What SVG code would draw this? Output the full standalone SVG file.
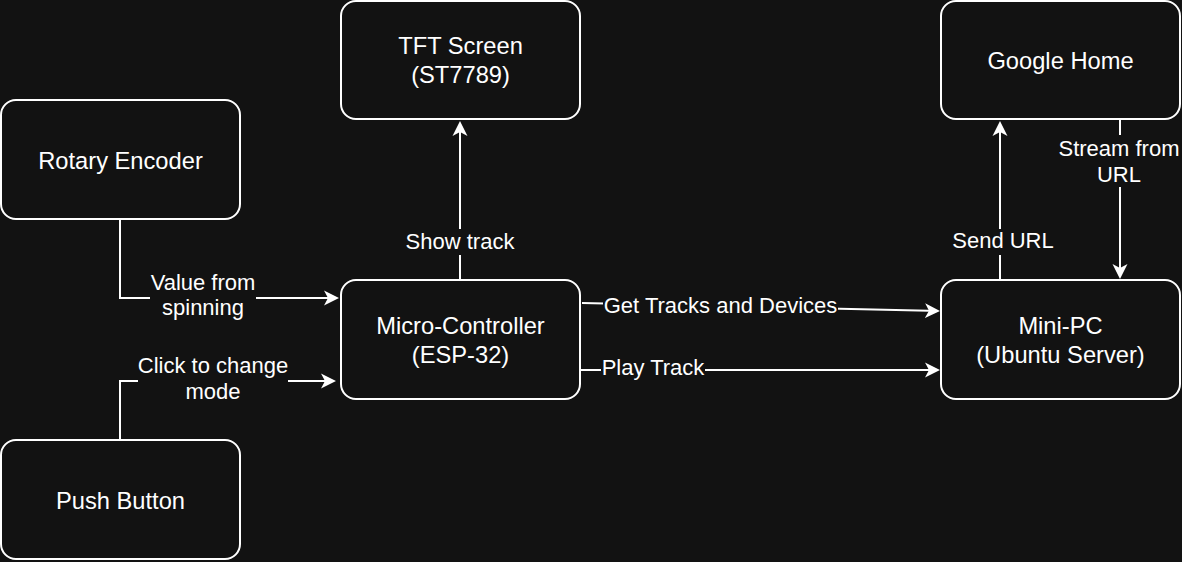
<svg xmlns="http://www.w3.org/2000/svg" width="1182" height="562" viewBox="0 0 1182 562">
<style>
.bg{fill:#121212}
.node rect.box{fill:#121212;stroke:#ffffff;stroke-width:2}
.nt{font-family:"Liberation Sans",Arial,sans-serif;font-size:23.7px;fill:#ffffff;text-anchor:middle}
.edge{fill:none;stroke:#ffffff;stroke-width:2}
.lbg{fill:#121212}
.lt{font-family:"Liberation Sans",Arial,sans-serif;font-size:22px;fill:#ffffff;text-anchor:middle}
</style>
<defs>
<marker id="arr" markerUnits="userSpaceOnUse" markerWidth="16" markerHeight="16" viewBox="0 -8 16 16" refX="4" refY="0" orient="auto">
<path d="M0,-7.5 L15,0 L0,7.5 L4,0 Z" fill="#ffffff"/>
</marker>
</defs>
<rect class="bg" x="0" y="0" width="1182" height="562"/>

<g id="connectors">
<path class="edge" d="M120,220 V298 H328" marker-end="url(#arr)"/>
<path class="edge" d="M120,440 V381 H325" marker-end="url(#arr)"/>
<path class="edge" d="M460,280 V132" marker-end="url(#arr)"/>
<path class="edge" d="M582,303 L929,310.75" marker-end="url(#arr)"/>
<path class="edge" d="M581,370 H929" marker-end="url(#arr)"/>
<path class="edge" d="M1000,280 V132" marker-end="url(#arr)"/>
<path class="edge" d="M1120,120 V268" marker-end="url(#arr)"/>

<rect class="lbg" x="150" y="270" width="106" height="50"/>
<text class="lt" x="203" y="290">Value from</text>
<text class="lt" x="203" y="315">spinning</text>

<rect class="lbg" x="138" y="354" width="150" height="50"/>
<text class="lt" x="213" y="373">Click to change</text>
<text class="lt" x="213" y="399">mode</text>

<rect class="lbg" x="405" y="229" width="110" height="26"/>
<text class="lt" x="460" y="249">Show track</text>

<rect class="lbg" x="603" y="293" width="235" height="25"/>
<text class="lt" x="720.5" y="313">Get Tracks and Devices</text>

<rect class="lbg" x="601" y="356" width="104" height="25"/>
<text class="lt" x="653" y="375">Play Track</text>

<rect class="lbg" x="952" y="229" width="102" height="26"/>
<text class="lt" x="1003" y="248">Send URL</text>

<rect class="lbg" x="1058" y="135" width="122" height="52"/>
<text class="lt" x="1119" y="156">Stream from</text>
<text class="lt" x="1119" y="182">URL</text>
</g>

<g id="rotary-encoder" class="node">
<rect class="box" x="1" y="100" width="239" height="119" rx="15"/>
<text class="nt" x="120.5" y="169">Rotary Encoder</text>
</g>
<g id="push-button" class="node">
<rect class="box" x="1" y="440" width="239" height="119" rx="15"/>
<text class="nt" x="120.5" y="509">Push Button</text>
</g>
<g id="tft-screen" class="node">
<rect class="box" x="341" y="1" width="239" height="118" rx="15"/>
<text class="nt" x="460.5" y="54">TFT Screen</text>
<text class="nt" x="460.5" y="83">(ST7789)</text>
</g>
<g id="micro-controller" class="node">
<rect class="box" x="341" y="280" width="239" height="119" rx="15"/>
<text class="nt" x="460.5" y="334">Micro-Controller</text>
<text class="nt" x="460.5" y="363">(ESP-32)</text>
</g>
<g id="google-home" class="node">
<rect class="box" x="941" y="1" width="239" height="118" rx="15"/>
<text class="nt" x="1060.5" y="69">Google Home</text>
</g>
<g id="mini-pc" class="node">
<rect class="box" x="941" y="280" width="239" height="119" rx="15"/>
<text class="nt" x="1060.5" y="334">Mini-PC</text>
<text class="nt" x="1060.5" y="363">(Ubuntu Server)</text>
</g>
</svg>
